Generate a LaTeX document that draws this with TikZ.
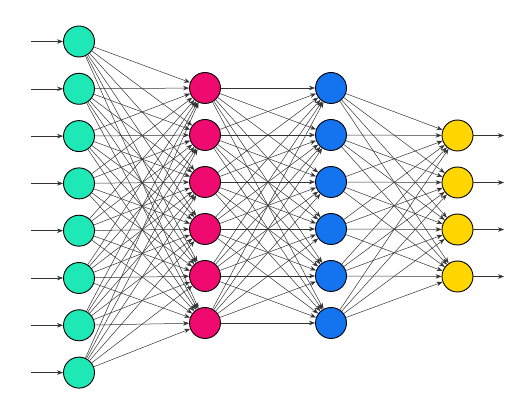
\documentclass[tikz,border=0pt]{standalone}
\usepackage{tikz}
\usetikzlibrary{arrows.meta}
\definecolor{nnteal}{RGB}{30,232,182}
\definecolor{nnpink}{RGB}{238,10,110}
\definecolor{nnblue}{RGB}{20,116,240}
\definecolor{nnyellow}{RGB}{255,214,0}

\begin{document}
\begin{tikzpicture}[x=1pt, y=-1pt,
    neuron/.style={circle, draw=black, line width=0.9pt, minimum size=31pt, inner sep=0pt},
    arr/.style={-{Stealth[length=6pt,width=4.5pt]}, line width=0.5pt, black!80}]

    \useasboundingbox (0,0) rectangle (531,414);

    %% Layers
    \foreach \i in {1,...,8}
      \node[neuron, fill=nnteal] (I-\i) at (79, {41.5+47.3*(\i-1)}) {};
    \foreach \i in {1,...,6}
      \node[neuron, fill=nnpink] (A-\i) at (205, {88+47*(\i-1)}) {};
    \foreach \i in {1,...,6}
      \node[neuron, fill=nnblue] (B-\i) at (331, {88+47*(\i-1)}) {};
    \foreach \i in {1,...,4}
      \node[neuron, fill=nnyellow] (O-\i) at (457.5, {135.5+47*(\i-1)}) {};

    %% Inputs and outputs
    \foreach \i in {1,...,8} {
      \coordinate (in-\i) at (31, {41.5+47.3*(\i-1)});
      \draw[arr] (in-\i) -- (I-\i);
    }
    \foreach \i in {1,...,4} {
      \coordinate (out-\i) at (504, {135.5+47*(\i-1)});
      \draw[arr] (O-\i) -- (out-\i);
    }

    %% Connections
    \foreach \i in {1,...,8}
      \foreach \j in {1,...,6}
        \draw[arr] (I-\i) -- (A-\j);
    \foreach \i in {1,...,6}
      \foreach \j in {1,...,6}
        \draw[arr] (A-\i) -- (B-\j);
    \foreach \i in {1,...,6}
      \foreach \j in {1,...,4}
        \draw[arr] (B-\i) -- (O-\j);
\end{tikzpicture}
\end{document}
